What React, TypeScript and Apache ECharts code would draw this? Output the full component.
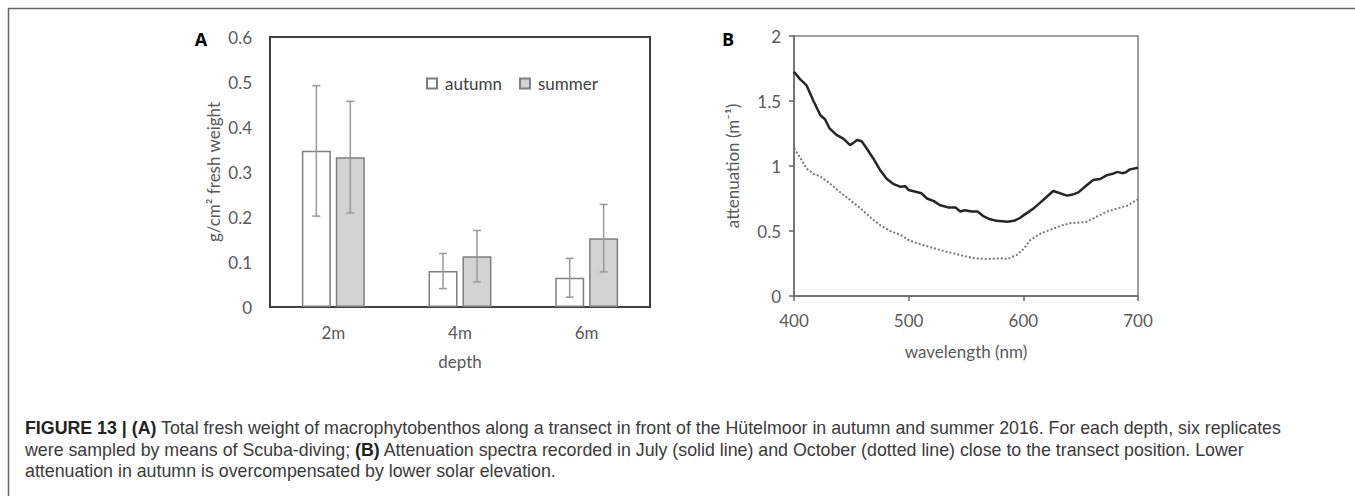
import React, { useEffect, useRef } from "react";
import * as echarts from "echarts";

const depths = ["2m", "4m", "6m"];
const autumnMean = [0.347, 0.08, 0.065];
const autumnSd = [0.145, 0.039, 0.043];
const summerMean = [0.333, 0.113, 0.153];
const summerSd = [0.124, 0.057, 0.075];

const weightTicks = [0, 0.1, 0.2, 0.3, 0.4, 0.5, 0.6];
const waveTicks = [400, 500, 600, 700];
const attTicks = [0, 0.5, 1, 1.5, 2];

const julyWavelength = [400, 405, 411, 417, 423, 427, 431, 437, 443, 449, 455, 459, 463, 469, 475, 481, 487, 493, 497, 500, 507, 511, 516, 522, 527, 535, 541, 545, 549, 555, 560, 565, 571, 577, 586, 592, 597, 600, 606, 609, 615, 620, 626, 632, 638, 643, 648, 655, 661, 667, 673, 678, 682, 686, 689, 693, 700];
const julyAttenuation = [1.725, 1.67, 1.62, 1.5, 1.39, 1.36, 1.29, 1.24, 1.21, 1.16, 1.2, 1.19, 1.14, 1.06, 0.97, 0.9, 0.86, 0.84, 0.845, 0.815, 0.8, 0.79, 0.75, 0.73, 0.7, 0.68, 0.68, 0.65, 0.66, 0.65, 0.65, 0.615, 0.59, 0.578, 0.572, 0.578, 0.6, 0.62, 0.655, 0.674, 0.72, 0.76, 0.808, 0.79, 0.772, 0.78, 0.797, 0.85, 0.892, 0.9, 0.93, 0.94, 0.955, 0.945, 0.95, 0.974, 0.987];

const octWavelength = [400, 405, 411, 417, 423, 431, 440, 449, 458, 466, 475, 484, 493, 501, 510, 522, 533, 545, 557, 568, 580, 586, 594, 600, 606, 615, 623, 632, 641, 655, 664, 673, 682, 690, 700];
const octAttenuation = [1.136, 1.07, 0.98, 0.94, 0.92, 0.867, 0.8, 0.738, 0.674, 0.61, 0.546, 0.5, 0.47, 0.425, 0.4, 0.367, 0.341, 0.315, 0.29, 0.285, 0.29, 0.283, 0.315, 0.36, 0.43, 0.48, 0.508, 0.538, 0.56, 0.57, 0.61, 0.649, 0.674, 0.692, 0.744];

const captionLines = [
  "{b|FIGURE 13 | (A)} Total fresh weight of macrophytobenthos along a transect in front of the Hütelmoor in autumn and summer 2016. For each depth, six replicates",
  "were sampled by means of Scuba-diving; {b|(B)} Attenuation spectra recorded in July (solid line) and October (dotted line) close to the transect position. Lower",
  "attenuation in autumn is overcompensated by lower solar elevation.",
];

const FONT = "Lato";
const LABEL = "#595959";
const CAPTION_SIZE = 17.8;

function errorSeries(name: string, means: number[], sds: number[], offset: number) {
  return {
    type: "custom",
    name: name + " sd",
    xAxisIndex: 0,
    yAxisIndex: 0,
    z: 5,
    encode: { x: 0, y: 1 },
    data: means.map((m, i) => [i, m, sds[i]]),
    renderItem: (params: any, api: any) => {
      const c = api.value(0);
      const m = api.value(1);
      const e = api.value(2);
      const hi = api.coord([c, m + e]);
      const lo = api.coord([c, m - e]);
      const x = hi[0] + offset;
      const style = { stroke: "#999999", lineWidth: 1.5 };
      return {
        type: "group",
        children: [
          { type: "line", shape: { x1: x, y1: hi[1], x2: x, y2: lo[1] }, style },
          { type: "line", shape: { x1: x - 4, y1: hi[1], x2: x + 4, y2: hi[1] }, style },
          { type: "line", shape: { x1: x - 4, y1: lo[1], x2: x + 4, y2: lo[1] }, style },
        ],
      };
    },
  };
}

export default function App() {
  const ref = useRef<HTMLDivElement>(null);
  useEffect(() => {
    if (!ref.current) return;
    const chart = echarts.init(ref.current, null, { renderer: "svg" });
    const axisText = { fontFamily: FONT, fontSize: 17, color: LABEL };
    chart.setOption({
      animation: false,
      backgroundColor: "#ffffff",
      textStyle: { fontFamily: FONT },
      grid: [
        { left: 270, top: 37, width: 380, height: 270, show: true, borderColor: "#404040", borderWidth: 2, backgroundColor: "transparent" },
        { left: 794, top: 36, width: 344, height: 260, show: true, borderColor: "#808080", borderWidth: 1.5, backgroundColor: "transparent" },
      ],
      legend: {
        data: ["autumn", "summer"],
        left: 421,
        top: 70,
        itemWidth: 10,
        itemHeight: 10,
        itemGap: 17,
        icon: "rect",
        textStyle: { fontFamily: FONT, fontSize: 17, color: "#404040", padding: [0, 0, 0, 3] },
      },
      xAxis: [
        {
          type: "category",
          gridIndex: 0,
          data: depths,
          axisTick: { show: false },
          axisLine: { lineStyle: { color: "#404040", width: 2 } },
          axisLabel: { ...axisText, margin: 17 },
          name: "depth",
          nameLocation: "middle",
          nameGap: 46,
          nameTextStyle: axisText,
        },
        {
          type: "value",
          gridIndex: 1,
          min: waveTicks[0],
          max: waveTicks[waveTicks.length - 1],
          interval: 100,
          axisLine: { lineStyle: { color: "#666666", width: 1.5 } },
          axisTick: { show: true, length: 5, lineStyle: { color: "#666666", width: 1.5 } },
          splitLine: { show: false },
          axisLabel: { ...axisText, margin: 16 },
          name: "wavelength (nm)",
          nameLocation: "middle",
          nameGap: 47,
          nameTextStyle: axisText,
        },
      ],
      yAxis: [
        {
          type: "value",
          gridIndex: 0,
          min: weightTicks[0],
          max: weightTicks[weightTicks.length - 1],
          interval: 0.1,
          axisLine: { show: true, lineStyle: { color: "#404040", width: 2 } },
          axisTick: { show: false },
          splitLine: { show: false },
          axisLabel: { ...axisText, margin: 18, formatter: (v: number) => (v === 0 ? "0" : v.toFixed(1)) },
          name: "g/cm² fresh weight",
          nameLocation: "middle",
          nameGap: 48,
          nameTextStyle: axisText,
        },
        {
          type: "value",
          gridIndex: 1,
          min: attTicks[0],
          max: attTicks[attTicks.length - 1],
          interval: 0.5,
          axisLine: { show: true, lineStyle: { color: "#666666", width: 1.5 } },
          axisTick: { show: true, length: 5, lineStyle: { color: "#666666", width: 1.5 } },
          splitLine: { show: false },
          axisLabel: { ...axisText, margin: 13 },
          name: "attenuation (m⁻¹)",
          nameLocation: "middle",
          nameGap: 53,
          nameTextStyle: axisText,
        },
      ],
      series: [
        {
          type: "bar",
          name: "autumn",
          xAxisIndex: 0,
          yAxisIndex: 0,
          data: autumnMean,
          barWidth: 29,
          barGap: "17%",
          itemStyle: { color: "#ffffff", borderColor: "#7f7f7f", borderWidth: 1.5 },
        },
        {
          type: "bar",
          name: "summer",
          xAxisIndex: 0,
          yAxisIndex: 0,
          data: summerMean,
          barWidth: 29,
          barGap: "17%",
          itemStyle: { color: "#d3d3d3", borderColor: "#7f7f7f", borderWidth: 1.5 },
        },
        errorSeries("autumn", autumnMean, autumnSd, -17),
        errorSeries("summer", summerMean, summerSd, 17),
        {
          type: "line",
          name: "July",
          xAxisIndex: 1,
          yAxisIndex: 1,
          showSymbol: false,
          data: julyWavelength.map((w, i) => [w, julyAttenuation[i]]),
          lineStyle: { color: "#262626", width: 2.5 },
        },
        {
          type: "line",
          name: "October",
          xAxisIndex: 1,
          yAxisIndex: 1,
          showSymbol: false,
          data: octWavelength.map((w, i) => [w, octAttenuation[i]]),
          lineStyle: { color: "#7a7a7a", width: 2, type: [2, 2] },
        },
      ],
      graphic: [
        { type: "polyline", shape: { points: [[8.5, 496], [8.5, 8.5], [1355, 8.5]] }, style: { stroke: "#666666", lineWidth: 1.5, fill: "none" } },
        { type: "text", x: 201, y: 39, style: { text: "A", fontFamily: "Open Sans", fontWeight: "bold", fontSize: 18, fill: "#000", textAlign: "center", textVerticalAlign: "middle" } },
        { type: "text", x: 728, y: 39, style: { text: "B", fontFamily: "Open Sans", fontWeight: "bold", fontSize: 18, fill: "#000", textAlign: "center", textVerticalAlign: "middle" } },
        ...captionLines.map((t, i) => ({
          type: "text",
          x: 25,
          y: 428 + i * 21.5,
          style: {
            text: t,
            fontFamily: "Liberation Sans",
            fontSize: CAPTION_SIZE,
            fill: "#3a3a3a",
            textVerticalAlign: "middle",
            rich: { b: { fontFamily: "Liberation Sans", fontSize: CAPTION_SIZE, fontWeight: "bold", fill: "#222" } },
          },
        })),
      ],
    });
    return () => chart.dispose();
  }, []);
  return <div ref={ref} style={{ position: "fixed", left: 0, top: 0, width: 1355, height: 496 }} />;
}
